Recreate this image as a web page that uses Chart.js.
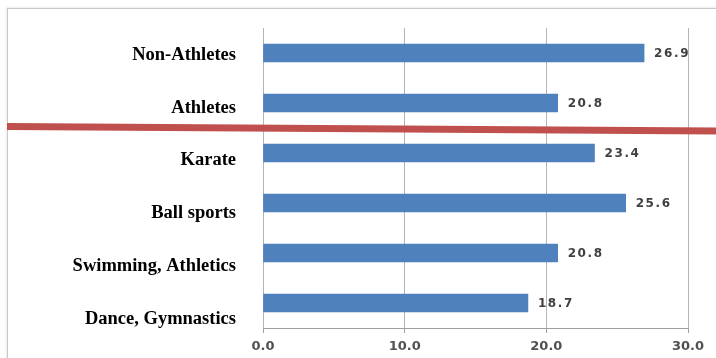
<!DOCTYPE html>
<html>
<head>
<meta charset="utf-8">
<script src="https://cdn.jsdelivr.net/npm/chart.js@4"></script>
<style>
  html, body { margin: 0; padding: 0; background: #fff; }
  #wrap { position: relative; width: 716px; height: 358px; overflow: hidden; }
  #frame { position: absolute; left: 7px; top: 8px; width: 720px; height: 360px;
           border-left: 1px solid #c8c8c8; border-top: 1px solid #c8c8c8;
           box-shadow: -1px -1px 2px rgba(0,0,0,0.08); }
  #chart { position: absolute; left: 0; top: 0; }
</style>
</head>
<body>
<div id="wrap">
  <div id="frame"></div>
  <canvas id="chart" width="716" height="358"></canvas>
</div>
<script>
// Categories and values (top to bottom)
const groups = ['Non-Athletes', 'Athletes', 'Karate', 'Ball sports', 'Swimming, Athletics', 'Dance, Gymnastics'];
const values = [26.9, 20.8, 23.4, 25.6, 20.8, 18.7];
const xTicks = [0, 10, 20, 30];

// value labels at the end of each bar
const barLabels = {
    id: 'barLabels',
    afterDatasetsDraw(chart) {
        const ctx = chart.ctx;
        const meta = chart.getDatasetMeta(0);
        ctx.save();
        ctx.font = 'bold 12px "DejaVu Sans"';
        ctx.letterSpacing = '1.6px';
        ctx.fillStyle = '#404040';
        ctx.textAlign = 'left';
        ctx.textBaseline = 'middle';
        meta.data.forEach((bar, i) => {
            ctx.fillText(values[i].toFixed(1), bar.x + 10, bar.y + 1);
        });
        ctx.restore();
    }
};

// red divider drawn across the figure between Athletes and Karate
const divider = {
    id: 'divider',
    afterDraw(chart) {
        const ctx = chart.ctx;
        const y = chart.scales.y;
        const mid = (y.getPixelForValue(1) + y.getPixelForValue(2)) / 2;
        ctx.save();
        ctx.strokeStyle = '#c0504d';
        ctx.lineWidth = 7;
        ctx.beginPath();
        ctx.moveTo(7, mid - 1.5);
        ctx.lineTo(chart.width, mid + 3);
        ctx.stroke();
        ctx.restore();
    }
};

const ctx = document.getElementById('chart').getContext('2d');
new Chart(ctx, {
    type: 'bar',
    data: {
        labels: groups,
        datasets: [{
            data: values,
            backgroundColor: '#4f81bd',
            barThickness: 18,
            yAxisID: 'y'
        }]
    },
    options: {
        indexAxis: 'y',
        responsive: false,
        animation: false,
        layout: { padding: { top: 28, right: 28, left: 0, bottom: 0 } },
        plugins: {
            legend: { display: false },
            tooltip: { enabled: false }
        },
        scales: {
            x: {
                min: 0,
                max: 30,
                afterBuildTicks: (s) => { s.ticks = xTicks.map(v => ({ value: v })); },
                afterFit: (s) => { s.height = 30; s.paddingLeft = 0; s.paddingRight = 0; },
                grid: { color: '#b4b4b4', tickLength: 5, tickColor: '#a0a0a0' },
                border: { color: '#a0a0a0' },
                ticks: {
                    padding: 6,
                    color: '#505050',
                    font: { family: 'DejaVu Sans', size: 13, weight: 'bold' },
                    callback: (v) => Number(v).toFixed(1)
                }
            },
            y: {
                display: false
            },
            // label axis: category names sit slightly lower than the bars in the original
            y2: {
                type: 'linear',
                position: 'left',
                reverse: true,
                offset: false,
                bounds: 'data',
                min: -0.51,
                max: 5.17,
                afterDataLimits: (s) => { s.min = -0.51; s.max = 5.17; },
                afterBuildTicks: (s) => { s.ticks = groups.map((g, i) => ({ value: i })); },
                afterFit: (s) => { s.width = 263; s.paddingTop = 0; s.paddingBottom = 0; },
                grid: { display: false },
                border: { display: false },
                ticks: {
                    padding: 19,
                    autoSkip: false,
                    color: '#000',
                    font: { family: 'Liberation Serif', size: 18.5, weight: 'bold' },
                    callback: (v) => groups[v]
                }
            }
        }
    },
    plugins: [barLabels, divider]
});
</script>
</body>
</html>
